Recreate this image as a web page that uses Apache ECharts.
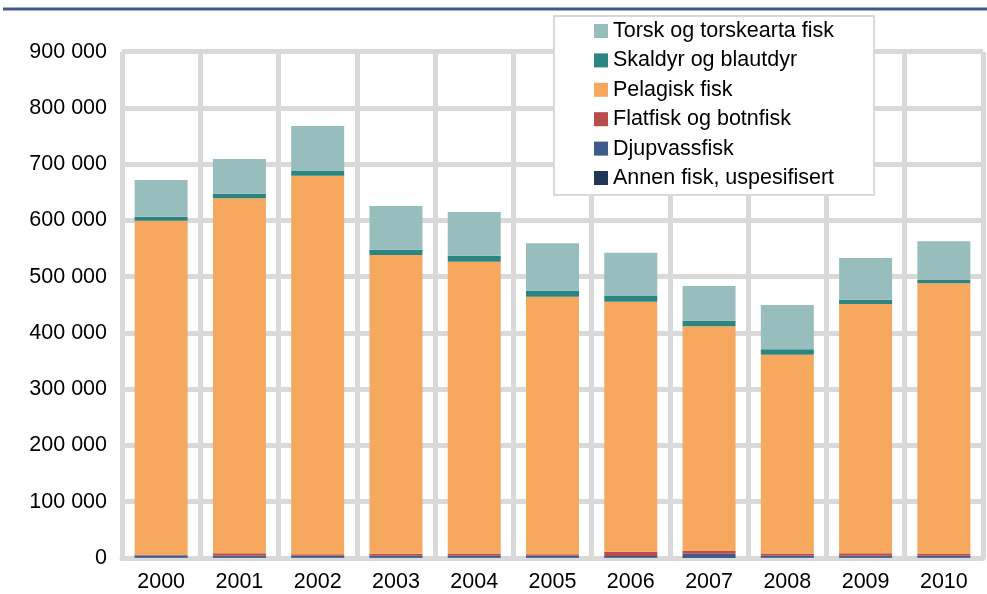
<!DOCTYPE html>
<html>
<head>
<meta charset="utf-8">
<script src="https://cdn.jsdelivr.net/npm/echarts@6/dist/echarts.min.js"></script>
<style>
  html, body { margin: 0; padding: 0; background: #fff; }
  #chart { width: 987px; height: 594px; }
</style>
</head>
<body>
<div id="chart"></div>
<script>
// Catch by species group, tonnes
const years = ['2000', '2001', '2002', '2003', '2004', '2005', '2006', '2007', '2008', '2009', '2010'];

const annenFisk    = [1000, 1000, 800, 1000, 1000, 1000, 1000, 1500, 1000, 1000, 1000];
const djupvassfisk = [3500, 3000, 3000, 3000, 3000, 3000, 2500, 6000, 3000, 3000, 3000];
const flatfisk     = [1500, 4500, 3000, 3500, 4000, 2500, 7500, 5000, 4000, 4500, 3000];
const pelagisk     = [593500, 630900, 672700, 531100, 518700, 457900, 444600, 399300, 353400, 443000, 481300];
const skaldyr      = [7200, 8100, 8400, 9400, 10600, 10700, 10100, 10000, 9600, 7600, 5800];
const torsk        = [65200, 61700, 80000, 77700, 77700, 84300, 77000, 61700, 78700, 74100, 68800];

const yTicks = { min: 0, max: 900000, interval: 100000 };

const seriesDefs = [
  { name: 'Annen fisk, uspesifisert', data: annenFisk,    color: '#1f3656' },
  { name: 'Djupvassfisk',             data: djupvassfisk, color: '#3f5b8c' },
  { name: 'Flatfisk og botnfisk',     data: flatfisk,     color: '#b94d4b' },
  { name: 'Pelagisk fisk',            data: pelagisk,     color: '#f6a95e' },
  { name: 'Skaldyr og blautdyr',      data: skaldyr,      color: '#2c8580' },
  { name: 'Torsk og torskearta fisk', data: torsk,        color: '#98bdbd' }
];

const FONT = '"Liberation Sans", Arial, sans-serif';
const FONT_SIZE = 21.5;
const GRID_COLOR = '#d9d9d9';

const chart = echarts.init(document.getElementById('chart'), null, { renderer: 'canvas' });

chart.setOption({
  animation: false,
  backgroundColor: '#ffffff',
  textStyle: { fontFamily: FONT },
  graphic: [
    {
      type: 'line',
      shape: { x1: 3, y1: 9, x2: 987, y2: 9 },
      style: { stroke: '#3e5a8a', lineWidth: 3 },
      z: 10
    }
  ],
  grid: { left: 122, right: 4, top: 51.7, bottom: 36, containLabel: false },
  legend: {
    orient: 'vertical',
    left: 554,
    top: 16,
    padding: [3, 40, 5, 40],
    backgroundColor: '#ffffff',
    borderColor: GRID_COLOR,
    borderWidth: 2,
    itemWidth: 14,
    itemHeight: 14,
    itemGap: 5.4,
    icon: 'rect',
    data: seriesDefs.map(s => s.name).reverse(),
    textStyle: { fontFamily: FONT, fontSize: FONT_SIZE, color: '#000', lineHeight: 24 },
    z: 20
  },
  xAxis: {
    type: 'category',
    data: years,
    boundaryGap: true,
    axisLine: { show: true, lineStyle: { color: GRID_COLOR, width: 5 } },
    axisTick: { show: false },
    splitLine: { show: true, lineStyle: { color: GRID_COLOR, width: 5 } },
    axisLabel: { color: '#000', fontSize: FONT_SIZE, fontFamily: FONT, margin: 13 }
  },
  yAxis: {
    type: 'value',
    min: yTicks.min,
    max: yTicks.max,
    interval: yTicks.interval,
    axisLine: { show: false },
    axisTick: { show: false },
    splitLine: { show: true, lineStyle: { color: GRID_COLOR, width: 5 } },
    axisLabel: {
      color: '#000',
      fontSize: FONT_SIZE,
      fontFamily: FONT,
      margin: 15,
      formatter: v => String(v).replace(/\B(?=(\d{3})+(?!\d))/g, ' ')
    }
  },
  series: seriesDefs.map(s => ({
    name: s.name,
    type: 'bar',
    stack: 'total',
    barWidth: 53,
    data: s.data,
    itemStyle: { color: s.color },
    emphasis: { disabled: true }
  }))
});
</script>
</body>
</html>
